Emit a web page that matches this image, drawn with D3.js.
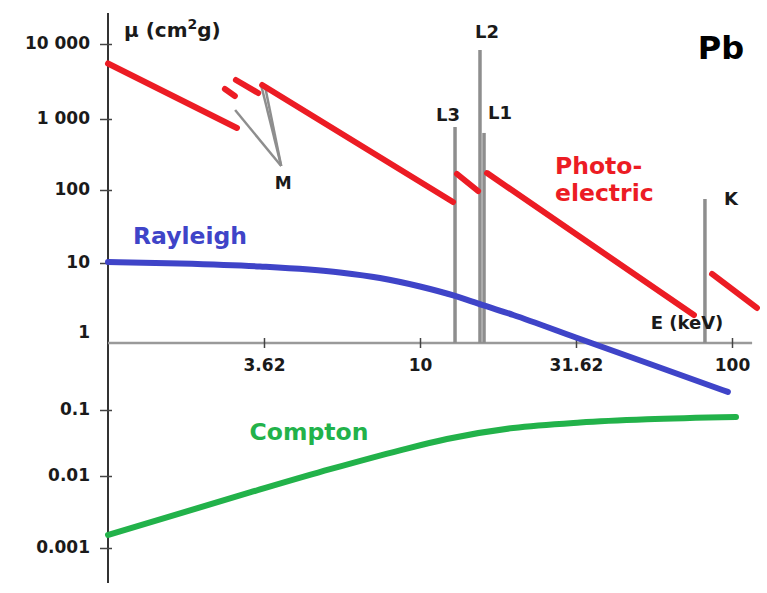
<!DOCTYPE html>
<html>
<head>
<meta charset="utf-8">
<script src="https://cdn.jsdelivr.net/npm/d3@7"></script>
<style>
  html, body { margin: 0; padding: 0; background: #fff; }
  svg { display: block; }
  text { font-family: "DejaVu Sans", Arial, sans-serif; font-weight: bold; }
</style>
</head>
<body>
<svg id="chart" width="767" height="593"></svg>
<script>
// Mass attenuation coefficient of lead (Pb) versus photon energy

// Energy axis ticks (keV) and their printed labels
const xTickValues = [3.162, 10, 31.62, 100];
const xTickLabels = ["3.62", "10", "31.62", "100"];

// Attenuation axis ticks (cm2/g) and their printed labels
const yTickValues = [10000, 1000, 100, 10, 1, 0.1, 0.01, 0.001];
const yTickLabels = ["10 000", "1 000", "100", "10", "1", "0.1", "0.01", "0.001"];

// Photoelectric absorption: one straight piece between each pair of edges [E keV, mu]
const photoSegments = [
  [[1.0, 5500], [2.59, 747]],
  [[2.37, 2512], [2.55, 2027]],
  [[2.57, 3311], [3.03, 2223]],
  [[3.12, 2840], [12.76, 68.5]],
  [[13.14, 168], [15.35, 96.9]],
  [[16.4, 173], [75.5, 2.24]],
  [[86.3, 7.29], [120.2, 2.74]]
];

// Rayleigh (coherent) scattering
const rayleighE  = [1, 1.7, 3.07, 5.54, 7.44, 10, 12.95, 15.8, 19.9, 31.6, 54.6, 97];
const rayleighMu = [10.3, 9.86, 9.04, 7.61, 6.49, 5.08, 3.87, 2.99, 2.24, 1.17, 0.486, 0.186];

// Compton (incoherent) scattering
const comptonE  = [1, 2.85, 5.15, 8.63, 12.2, 19.9, 32.6, 53.4, 103];
const comptonMu = [0.00152, 0.0059, 0.01267, 0.0245, 0.0364, 0.0534, 0.0647, 0.0723, 0.0783];

// Absorption edges: name, energy (keV), top of the marker line
const edgeNames = ["L3", "L2", "L1", "K"];
const edgeE     = [12.95, 15.57, 16.04, 81.9];
const edgeTop   = [771, 8318, 636, 75.3];

// M-edge pointers: start points on the curve, all meeting at the "M" label
const mPointerFrom = [[2.555, 1318], [3.09, 2930], [3.18, 2840]];
const mPointerTo = [3.59, 218];

const svg = d3.select("#chart");

const x = d3.scaleLog().domain([1, 100]).range([108, 732]);
// hand-spaced decades on the vertical axis
const y = d3.scaleLog()
  .domain([10000, 1000, 100, 10, 1, 0.1, 0.01, 0.001])
  .range([44, 119, 190, 263, 343, 410, 476, 548]);

const red = "#ec1c24", blue = "#3f44c8", green = "#22b24a", grey = "#8e8e8e";

// ---- axes ----
// vertical axis line
svg.append("line")
  .attr("x1", x(1)).attr("x2", x(1))
  .attr("y1", 13).attr("y2", 583)
  .attr("stroke", "#333").attr("stroke-width", 2);

// horizontal axis at mu = 1
const xAxis = svg.append("g")
  .attr("transform", `translate(0,${y(1)})`)
  .call(d3.axisBottom(x).tickValues(xTickValues)
    .tickFormat((d, i) => xTickLabels[i]).tickSizeOuter(0));
xAxis.select(".domain").remove();
xAxis.insert("line", ":first-child")
  .attr("x1", x(1)).attr("x2", x(116))
  .attr("stroke", "#9a9a9a").attr("stroke-width", 2.5);
xAxis.selectAll(".tick line")
  .attr("y1", -5).attr("y2", 5)
  .attr("stroke", "#444").attr("stroke-width", 1.5);
xAxis.selectAll(".tick text")
  .attr("y", 16).attr("fill", "#1a1a1a")
  .style("font-size", "17px");

const yAxis = svg.append("g")
  .attr("transform", `translate(${x(1)},0)`)
  .call(d3.axisLeft(y).tickValues(yTickValues)
    .tickFormat((d, i) => yTickLabels[i]));
yAxis.select(".domain").remove();
yAxis.selectAll(".tick line")
  .attr("x1", 4).attr("x2", -8)
  .attr("stroke", "#444").attr("stroke-width", 1.5)
  .filter(d => d === 1).remove();
yAxis.selectAll(".tick text")
  .attr("x", -18).attr("dy", d => d === 1 ? "-0.3em" : "0.28em")
  .attr("fill", "#1a1a1a").attr("text-anchor", "end")
  .style("font-size", "17px");

// ---- edge markers ----
svg.append("g").selectAll("line").data(edgeE).join("line")
  .attr("x1", d => x(d)).attr("x2", d => x(d))
  .attr("y1", (d, i) => y(edgeTop[i])).attr("y2", y(1))
  .attr("stroke", grey).attr("stroke-width", 3.5);

// M pointer lines
svg.append("g").selectAll("line").data(mPointerFrom).join("line")
  .attr("x1", d => x(d[0])).attr("y1", d => y(d[1]))
  .attr("x2", x(mPointerTo[0])).attr("y2", y(mPointerTo[1]))
  .attr("stroke", grey).attr("stroke-width", 2.5);

// ---- curves ----
const line = d3.line().x(d => x(d[0])).y(d => y(d[1]));
const smooth = d3.line().x(d => x(d[0])).y(d => y(d[1])).curve(d3.curveMonotoneX);

svg.append("path")
  .attr("d", smooth(rayleighE.map((e, i) => [e, rayleighMu[i]])))
  .attr("fill", "none").attr("stroke", blue).attr("stroke-width", 6)
  .attr("stroke-linecap", "round");

svg.append("path")
  .attr("d", smooth(comptonE.map((e, i) => [e, comptonMu[i]])))
  .attr("fill", "none").attr("stroke", green).attr("stroke-width", 6)
  .attr("stroke-linecap", "round");

svg.append("g").selectAll("path").data(photoSegments).join("path")
  .attr("d", d => line(d))
  .attr("fill", "none").attr("stroke", red).attr("stroke-width", 6)
  .attr("stroke-linecap", "round");

// ---- labels ----
const edgeLabelPos = { L3: [-7, -12], L2: [7, -18], L1: [16, -20], K: [26, 0] };
svg.append("g").selectAll("text").data(edgeNames).join("text")
  .attr("x", (d, i) => x(edgeE[i]) + edgeLabelPos[d][0])
  .attr("y", (d, i) => y(edgeTop[i]) + edgeLabelPos[d][1])
  .attr("dy", "0.35em")
  .attr("text-anchor", "middle").attr("fill", "#1a1a1a")
  .style("font-size", "18px")
  .text(d => d);

svg.append("text")
  .attr("x", x(mPointerTo[0]) + 2).attr("y", y(mPointerTo[1]) + 17)
  .attr("dy", "0.35em").attr("text-anchor", "middle")
  .attr("fill", "#1a1a1a").style("font-size", "17px").text("M");

const yTitle = svg.append("text")
  .attr("x", 124).attr("y", 37)
  .attr("fill", "#1a1a1a").style("font-size", "20px");
yTitle.append("tspan").text("\u03bc (cm");
yTitle.append("tspan").attr("dy", -8).style("font-size", "14px").text("2");
yTitle.append("tspan").attr("dy", 8).text("g)");

svg.append("text")
  .attr("x", 721).attr("y", 48).attr("dy", "0.35em")
  .attr("text-anchor", "middle").attr("fill", "#000")
  .style("font-size", "32px").text("Pb");

svg.append("text")
  .attr("x", 687).attr("y", 323).attr("dy", "0.35em")
  .attr("text-anchor", "middle").attr("fill", "#1a1a1a")
  .style("font-size", "18px").text("E (keV)");

svg.append("text")
  .attr("x", 190).attr("y", 236).attr("dy", "0.35em")
  .attr("text-anchor", "middle").attr("fill", blue)
  .style("font-size", "23.5px").text("Rayleigh");

svg.append("text")
  .attr("x", 309).attr("y", 432).attr("dy", "0.35em")
  .attr("text-anchor", "middle").attr("fill", green)
  .style("font-size", "23.5px").text("Compton");

const pe = svg.append("text")
  .attr("x", 555).attr("fill", red).style("font-size", "23.5px");
pe.append("tspan").attr("x", 555).attr("y", 174).text("Photo-");
pe.append("tspan").attr("x", 555).attr("y", 201).text("electric");
</script>
</body>
</html>
